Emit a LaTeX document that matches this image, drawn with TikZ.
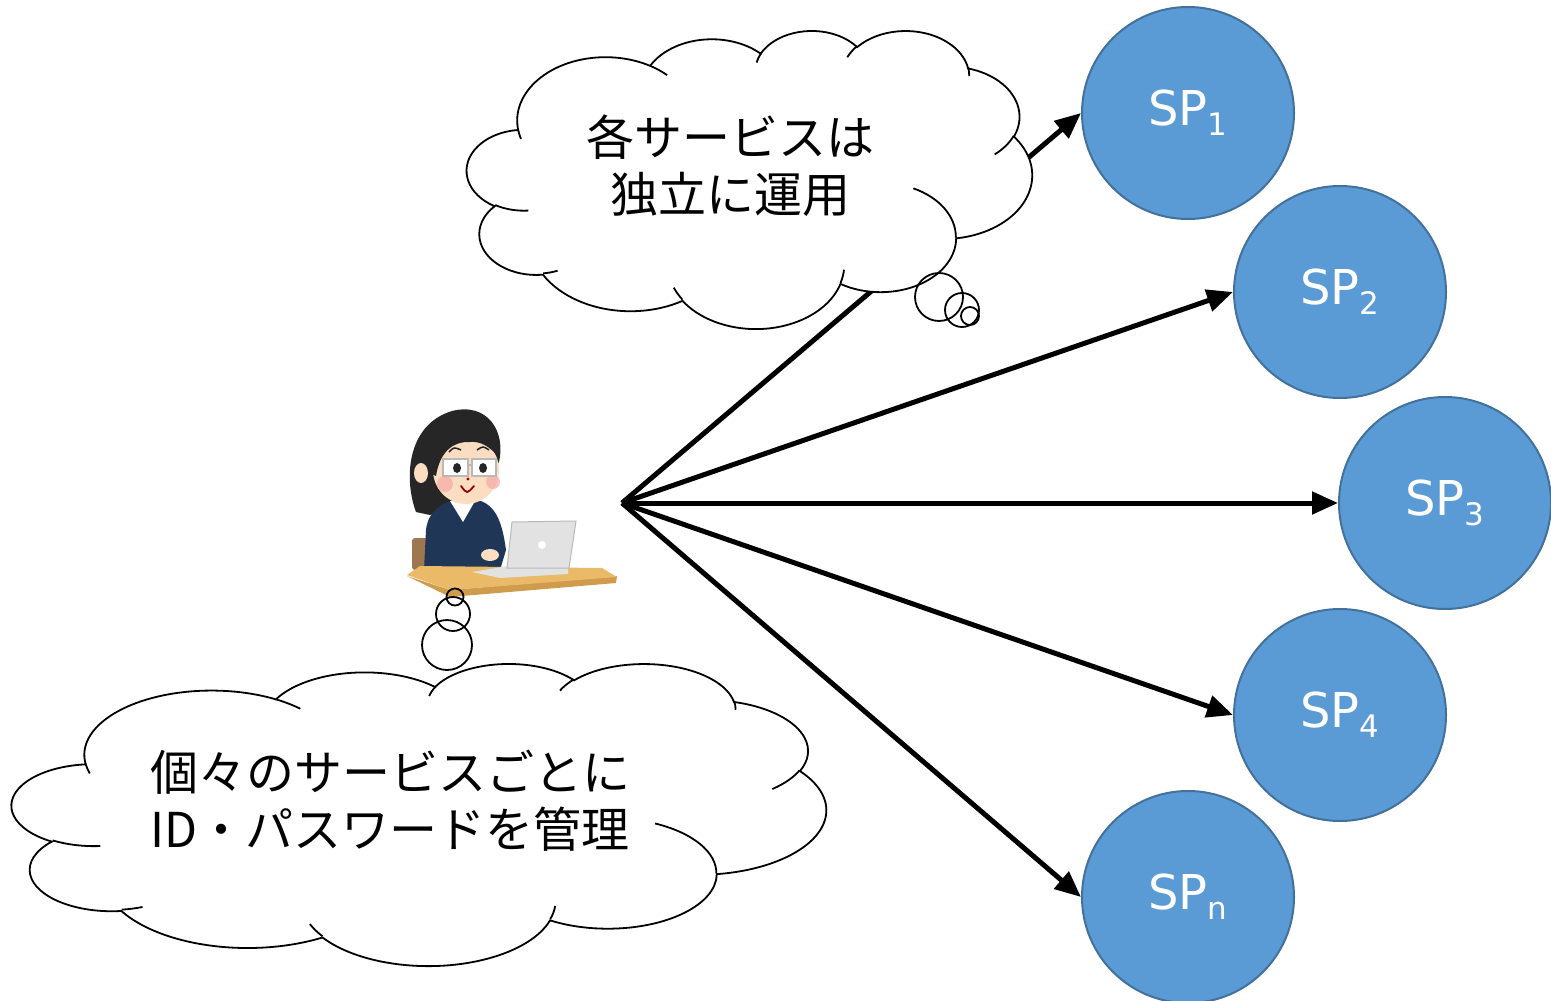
\documentclass[tikz,border=0pt]{standalone}
\usepackage{fontspec}
\setmainfont{DejaVu Sans}
\newfontfamily\jpfont{Noto Sans CJK JP}
\usetikzlibrary{arrows.meta}

% One lobe of a cloud outline: #1,#2 = radii, #3 = start angle, #4 = sweep.
% The angles are ray angles; they are turned into ellipse parameters here.
\newcommand\cloudarc[4]{%
  \pgfextra{%
    \pgfmathsetmacro\cldA{atan2((#1)*sin(#3),(#2)*cos(#3))}%
    \pgfmathsetmacro\cldA{\cldA-360*round((\cldA-(#3))/360)}%
    \pgfmathsetmacro\cldB{atan2((#1)*sin((#3)+(#4)),(#2)*cos((#3)+(#4)))}%
    \pgfmathsetmacro\cldB{\cldB-360*round((\cldB-(#3)-(#4))/360)}%
    \global\let\cldA\cldA \global\let\cldB\cldB}%
  arc[x radius=#1, y radius=#2, start angle=\cldA, end angle=\cldB]}

% Cloud in a box: left, top, width, height (box is 43.2 x 43.2 inside)
\newcommand\cloudshape[4]{%
  \begin{scope}[shift={(#1,#2)}, x={({#3/43.2},0)}, y={(0,{#4/43.2})}]
    \path[cloudline, fill=white] (3.9,14.37)
      \cloudarc{6.753}{9.19}{-190.4875}{123.7805}
      \cloudarc{5.333}{7.267}{-144.1024}{89.9452}
      \cloudarc{4.365}{5.945}{-145.8079}{99.7230}
      \cloudarc{4.857}{6.595}{-130.9861}{117.2417}
      \cloudarc{5.333}{7.273}{-78.7089}{109.0269}
      \cloudarc{6.775}{9.22}{-46.2673}{130.2690}
      \cloudarc{5.785}{7.867}{0.6250}{114.0333}
      \cloudarc{6.752}{9.215}{22.4516}{115.1726}
      \cloudarc{7.72}{10.543}{66.2426}{75.7110}
      \cloudarc{4.36}{5.918}{-274.9421}{146.7356}
      \cloudarc{4.345}{5.945}{-246.8285}{152.5189}
      -- cycle;
    \path[cloudline]
      (4.693,26.177) \cloudarc{4.345}{5.945}{86.7420}{26.4295}
      (6.928,34.899) \cloudarc{4.36}{5.918}{73.6105}{11.4475}
      (16.478,39.09) \cloudarc{6.752}{9.215}{137.6242}{14.0811}
      (28.827,34.751) \cloudarc{6.752}{9.215}{6.4533}{15.9984}
      (34.129,22.954) \cloudarc{5.785}{7.867}{-70.2924}{70.9174}
      (41.798,15.354) \cloudarc{5.333}{7.273}{30.3180}{27.7515}
      (38.324,5.426) \cloudarc{4.857}{6.595}{-13.7443}{14.8589}
      (29.078,3.952) \cloudarc{4.857}{6.595}{-149.1815}{18.1954}
      (22.141,4.72) \cloudarc{4.365}{5.945}{-163.4943}{17.6864}
      (14.0,5.192) \cloudarc{6.753}{9.19}{-66.7070}{12.3194}
      (4.127,15.789) \cloudarc{6.753}{9.19}{157.6544}{11.8582};
  \end{scope}}

\definecolor{spfill}{HTML}{5B9BD5}
\definecolor{spedge}{HTML}{41719C}
\definecolor{hair}{HTML}{262626}
\definecolor{skin}{HTML}{FBDDC2}
\definecolor{blush}{HTML}{F6A9A6}
\definecolor{suit}{HTML}{1F3657}
\definecolor{desktop}{HTML}{EBBA68}
\definecolor{deskedge}{HTML}{CF9C4E}
\definecolor{laptop}{HTML}{E2E2E2}
\definecolor{laptopedge}{HTML}{B9B9B9}
\definecolor{chair}{HTML}{9E7650}

\tikzset{
  spnode/.style={circle, fill=spfill, draw=spedge, line width=2pt,
    minimum size=212pt, inner sep=0pt, text=white,
    font=\fontsize{48}{48}\selectfont},
  arrowline/.style={line width=5pt, -{Triangle[length=26pt, width=22pt]}},
  cloudline/.style={draw=black, line width=1.8pt},
  bubble/.style={draw=black, line width=1.8pt},
  jptext/.style={font=\jpfont\fontsize{48}{57}\selectfont, align=center},
}
\newcommand\spsub[1]{\raisebox{-10pt}{\fontsize{31}{31}\selectfont #1}}

\begin{document}
\begin{tikzpicture}[x=1pt, y=-1pt]
  \useasboundingbox[fill=white] (0,0) rectangle (1551,1001);

  % service providers
  \node[spnode] (sp1) at (1188,113) {SP\spsub{1}};
  \node[spnode] (sp2) at (1340,292) {SP\spsub{2}};
  \node[spnode] (sp3) at (1445,503) {SP\spsub{3}};
  \node[spnode] (sp4) at (1340,715) {SP\spsub{4}};
  \node[spnode] (spn) at (1188,897) {SP\spsub{n}};

  % connections from the user
  \coordinate (hub) at (622,503);
  \foreach \t in {sp1,sp2,sp3,sp4,spn}
    \draw[arrowline] (hub) -- (\t.west);

  % user at a laptop
  \fill[chair, rounded corners=3pt] (412,538) rectangle (434,570);
  \fill[hair] (416,512) .. controls (404,480) and (406,425) .. (452,411)
    .. controls (488,402) and (506,432) .. (499,462) -- (470,500) -- (430,515) -- cycle;
  \fill[suit] (424,570) -- (426,530) .. controls (428,512) and (440,503) .. (455,500)
    -- (478,500) .. controls (495,505) and (502,520) .. (506,550) -- (500,570) -- cycle;
  \fill[white] (450,501) -- (475,501) -- (463,522) -- cycle;
  \fill[skin] (466,470) ellipse[x radius=33, y radius=34];
  \fill[skin] (421,473) ellipse[x radius=7, y radius=10];
  \fill[hair] (428,472) .. controls (424,430) and (445,415) .. (465,416)
    .. controls (488,417) and (500,432) .. (499,458)
    .. controls (490,446) and (480,441) .. (470,442)
    .. controls (455,441) and (440,450) .. (436,476) -- cycle;
  \fill[blush, opacity=0.7] (445,484) circle[radius=8];
  \fill[blush, opacity=0.7] (493,482) circle[radius=7];
  \draw[laptopedge, line width=1.5pt, fill=white] (443,459) rectangle (468,476);
  \draw[laptopedge, line width=1.5pt, fill=white] (472,459) rectangle (496,476);
  \draw[laptopedge, line width=1.5pt] (468,465) -- (472,465);
  \fill[hair] (457,468) ellipse[x radius=4, y radius=5];
  \fill[hair] (483,468) ellipse[x radius=4, y radius=5];
  \draw[hair, line width=1.5pt] (449,452) .. controls (454,447) .. (461,450);
  \draw[hair, line width=1.5pt] (477,450) .. controls (483,446) .. (489,450);
  \fill[red!70!black] (468,479) circle[radius=1.6];
  \draw[red!60!black, line width=1.8pt, line cap=round] (461,486) .. controls (467,494) .. (474,486);
  \fill[skin] (490,555) ellipse[x radius=9, y radius=6];
  \fill[deskedge] (407,576) -- (450,597) -- (616,583) -- (617,576) -- (450,590) -- cycle;
  \fill[desktop] (407,575) -- (420,566) -- (602,568) -- (617,577) -- (450,590) -- cycle;
  \fill[laptop] (472,572) -- (508,566) -- (568,566) -- (568,574) -- (500,578) -- cycle;
  \filldraw[fill=laptop, draw=laptopedge, line width=1pt]
    (512,522) -- (576,521) -- (569,568) -- (507,568) -- cycle;
  \fill[white] (542,545) circle[radius=4];

  % thought clouds
  \cloudshape{467}{30}{565}{298}
  \path[bubble] (939,297) circle[radius=24];
  \path[bubble] (962,310) circle[radius=17];
  \path[bubble] (970,316) circle[radius=9];
  \node[jptext] (msg1) at (730,166) {各サービスは\\独立に運用};

  \cloudshape{12}{663}{814}{302}
  \path[bubble] (447,645) circle[radius=25];
  \path[bubble] (453,614) circle[radius=17];
  \path[bubble] (455,597) circle[radius=8.5];
  \node[jptext] (msg2) at (390,801) {個々のサービスごとに\\ID・パスワードを管理};
\end{tikzpicture}
\end{document}
